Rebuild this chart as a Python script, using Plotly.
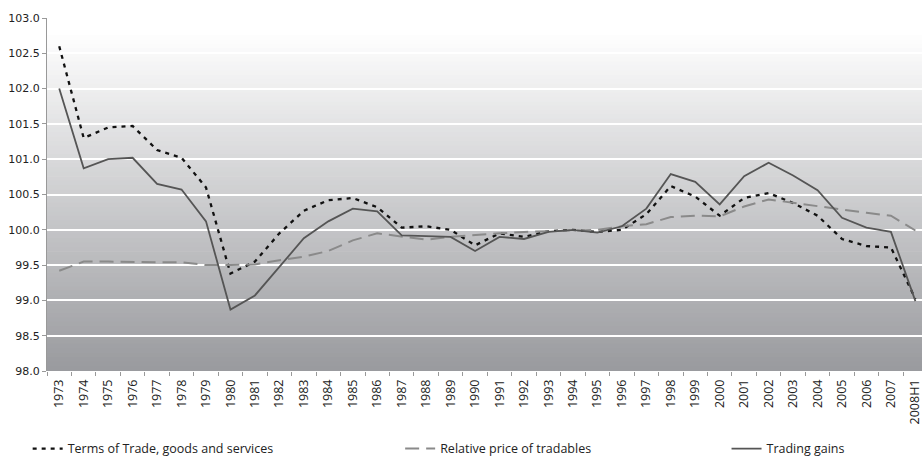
import plotly.graph_objects as go

categories = [str(y) for y in range(1973, 2008)] + ["2008H1"]

terms_of_trade = [102.60, 101.30, 101.45, 101.47, 101.13, 101.02, 100.60, 99.38, 99.55, 99.95,
                  100.27, 100.42, 100.45, 100.32, 100.03, 100.05, 100.00, 99.78, 99.95, 99.90,
                  99.98, 100.00, 99.97, 100.00, 100.22, 100.62, 100.47, 100.20, 100.45, 100.52,
                  100.38, 100.20, 99.87, 99.77, 99.75, 99.02]

relative_price = [99.42, 99.55, 99.55, 99.54, 99.54, 99.54, 99.50, 99.50, 99.51, 99.57,
                  99.62, 99.70, 99.85, 99.95, 99.90, 99.86, 99.90, 99.93, 99.95, 99.97,
                  99.98, 100.00, 100.00, 100.05, 100.08, 100.18, 100.20, 100.19, 100.33, 100.43,
                  100.38, 100.33, 100.28, 100.24, 100.20, 99.99]

trading_gains = [102.00, 100.87, 101.00, 101.02, 100.65, 100.57, 100.12, 98.87, 99.07, 99.48,
                 99.88, 100.12, 100.30, 100.26, 99.92, 99.91, 99.90, 99.70, 99.90, 99.87,
                 99.97, 100.00, 99.96, 100.05, 100.30, 100.79, 100.68, 100.36, 100.76, 100.95,
                 100.77, 100.56, 100.17, 100.03, 99.97, 98.99]

y_ticks = [98.0, 98.5, 99.0, 99.5, 100.0, 100.5, 101.0, 101.5, 102.0, 102.5, 103.0]

fig = go.Figure()

fig.add_trace(go.Scatter(x=categories, y=terms_of_trade, mode="lines",
                         name="Terms of Trade, goods and services",
                         line=dict(color="#111111", width=2.3, dash="4px,5px"),
                         legend="legend"))
fig.add_trace(go.Scatter(x=categories, y=relative_price, mode="lines",
                         name="Relative price of tradables",
                         line=dict(color="#8a8a8a", width=2, dash="14px,7px"),
                         legend="legend2"))
fig.add_trace(go.Scatter(x=categories, y=trading_gains, mode="lines",
                         name="Trading gains",
                         line=dict(color="#555555", width=1.8),
                         legend="legend3"))

# vertical gradient background (white at top to mid gray at bottom)
shapes = []
n = 80
top = (255, 255, 255)
bot = (153, 154, 158)
for i in range(n):
    t = (i + 0.5) / n  # 0 top -> 1 bottom
    f = max(0.0, (t - 0.04) / 0.96)
    c = tuple(round(top[k] + (bot[k] - top[k]) * f) for k in range(3))
    y1 = 1 - i / n
    y0 = 1 - (i + 1) / n
    shapes.append(dict(type="rect", xref="paper", yref="paper", x0=0, x1=1,
                       y0=y0, y1=y1 + 0.002, fillcolor="rgb(%d,%d,%d)" % c,
                       line=dict(width=0), layer="below"))

FONT = "Open Sans, sans-serif"
legend_common = dict(orientation="h", xref="container", yref="container",
                     yanchor="middle", y=0.022, bgcolor="rgba(0,0,0,0)",
                     font=dict(family=FONT, size=12.5, color="#222222"))

fig.update_layout(
    width=922, height=459,
    margin=dict(l=47, r=0, t=18, b=88),
    paper_bgcolor="white",
    plot_bgcolor="rgba(0,0,0,0)",
    shapes=shapes,
    showlegend=True,
    legend=dict(x=0.03, xanchor="left", **legend_common),
    legend2=dict(x=0.434, xanchor="left", **legend_common),
    legend3=dict(x=0.788, xanchor="left", **legend_common),
    xaxis=dict(type="category", categoryorder="array", categoryarray=categories,
               tickangle=-90, tickson="boundaries", ticks="outside", ticklen=4,
               tickcolor="#999999", showgrid=False, showline=False,
               ticklabelstandoff=5,
               tickfont=dict(family=FONT, size=12.5, color="#222222"),
               range=[-0.5, len(categories) - 0.73]),
    yaxis=dict(range=[98.0, 103.0], tickvals=y_ticks,
               ticktext=["%.1f" % v for v in y_ticks],
               showgrid=True, gridcolor="white", gridwidth=1.5,
               showline=True, linecolor="#999999", linewidth=1,
               ticks="outside", ticklen=4, tickcolor="#999999",
               zeroline=False,
               tickfont=dict(family="DejaVu Sans, sans-serif", size=11, color="#222222")),
)

fig.write_html("out.html", config={"displayModeBar": False},
               post_script="document.body.style.margin='0px';")
